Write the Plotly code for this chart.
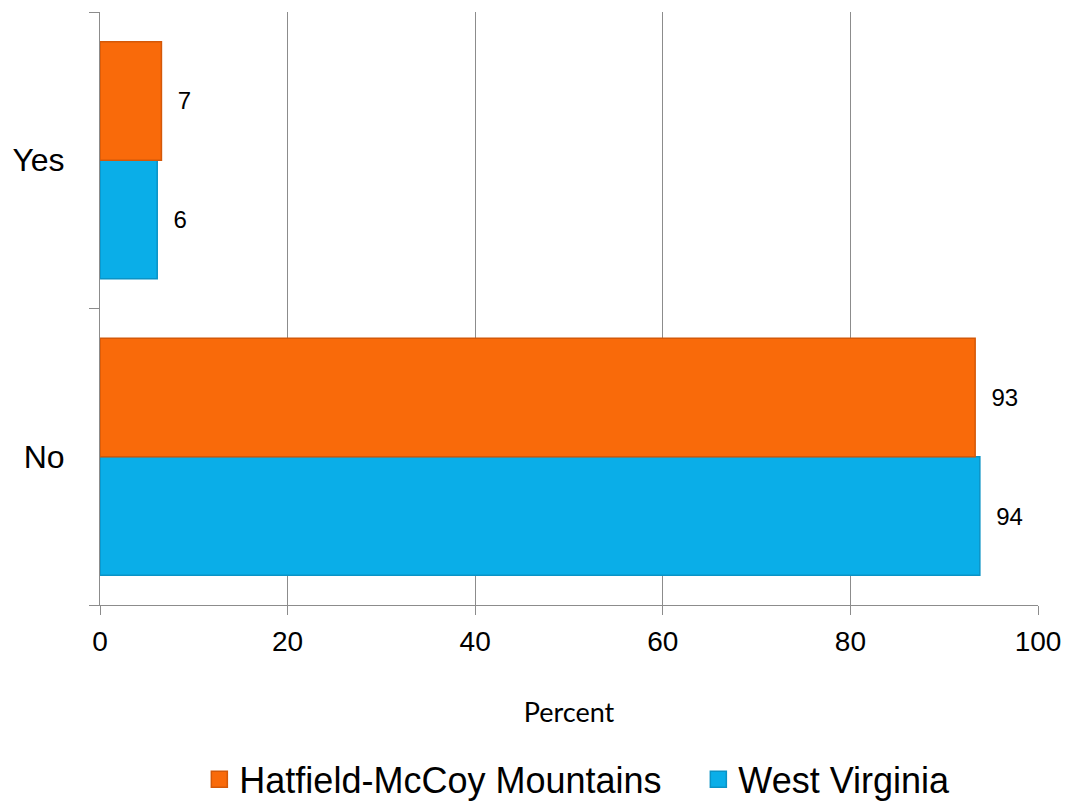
import plotly.graph_objects as go

categories = ["No", "Yes"]
series_names = ["Hatfield-McCoy Mountains", "West Virginia"]
hatfield_values = [93.3, 6.55]
wv_values = [93.8, 6.1]
x_ticks = [0, 20, 40, 60, 80, 100]

orange = "#F96A0A"
orange_edge = "#D45808"
blue = "#0AAEE8"
blue_edge = "#0A93C6"
grid = "#8C8C8C"

fig = go.Figure()

# West Virginia first -> lower bar in each group
fig.add_trace(go.Bar(
    y=categories, x=wv_values, orientation="h", name=series_names[1],
    marker=dict(color=blue, line=dict(color=blue_edge, width=1.5)),
    texttemplate="\u00a0\u00a0%{x:.0f}", textposition="outside",
    textfont=dict(family="Liberation Sans, Arial", size=24, color="black"),
    cliponaxis=False, showlegend=False,
))
fig.add_trace(go.Bar(
    y=categories, x=hatfield_values, orientation="h", name=series_names[0],
    marker=dict(color=orange, line=dict(color=orange_edge, width=1.5)),
    texttemplate="\u00a0\u00a0%{x:.0f}", textposition="outside",
    textfont=dict(family="Liberation Sans, Arial", size=24, color="black"),
    cliponaxis=False, showlegend=False,
))

# legend entries (square swatches)
legend_widths = [454, None]
for name, col, edge, lw in [(series_names[0], orange, orange_edge, legend_widths[0]),
                            (series_names[1], blue, blue_edge, legend_widths[1])]:
    fig.add_trace(go.Scatter(
        x=[None], y=[None], mode="markers", name=name,
        marker=dict(symbol="square", size=16, color=col, line=dict(color=edge, width=1.5)),
        showlegend=True, legendwidth=lw,
    ))

# page body adds an 8px offset; compensate so the plot lands where the reference has it
fig.update_layout(
    width=1062, height=796,
    margin=dict(l=92, r=32, t=4, b=199, autoexpand=False),
    paper_bgcolor="white", plot_bgcolor="white",
    barmode="group", bargap=0.2, bargroupgap=0,
    showlegend=True,
    legend=dict(
        orientation="h", xref="container", yref="container",
        x=0.5361, xanchor="center", y=0.031, yanchor="middle",
        font=dict(family="Liberation Sans, Arial", size=36, color="black"),
        itemsizing="trace",
    ),
)

fig.update_xaxes(
    range=[0, 100], tickvals=x_ticks, automargin=False,
    showline=True, linecolor=grid, linewidth=1,
    ticks="outside", ticklen=9, tickcolor=grid,
    showgrid=True, gridcolor=grid, gridwidth=1, zeroline=False,
    tickfont=dict(family="Liberation Sans, Arial", size=28, color="black"),
    ticklabelstandoff=2,
    title=dict(text="Percent", font=dict(family="Lato, Open Sans", size=27, color="black"), standoff=47),
)
fig.update_yaxes(
    categoryorder="array", categoryarray=categories, automargin=False,
    showline=True, linecolor=grid, linewidth=1,
    ticks="outside", ticklen=10, tickcolor=grid, tickson="boundaries",
    showgrid=False, zeroline=False,
    tickfont=dict(family="Liberation Sans, Arial", size=32, color="black"),
    ticklabelstandoff=28,
)

fig.write_html("out.html")
